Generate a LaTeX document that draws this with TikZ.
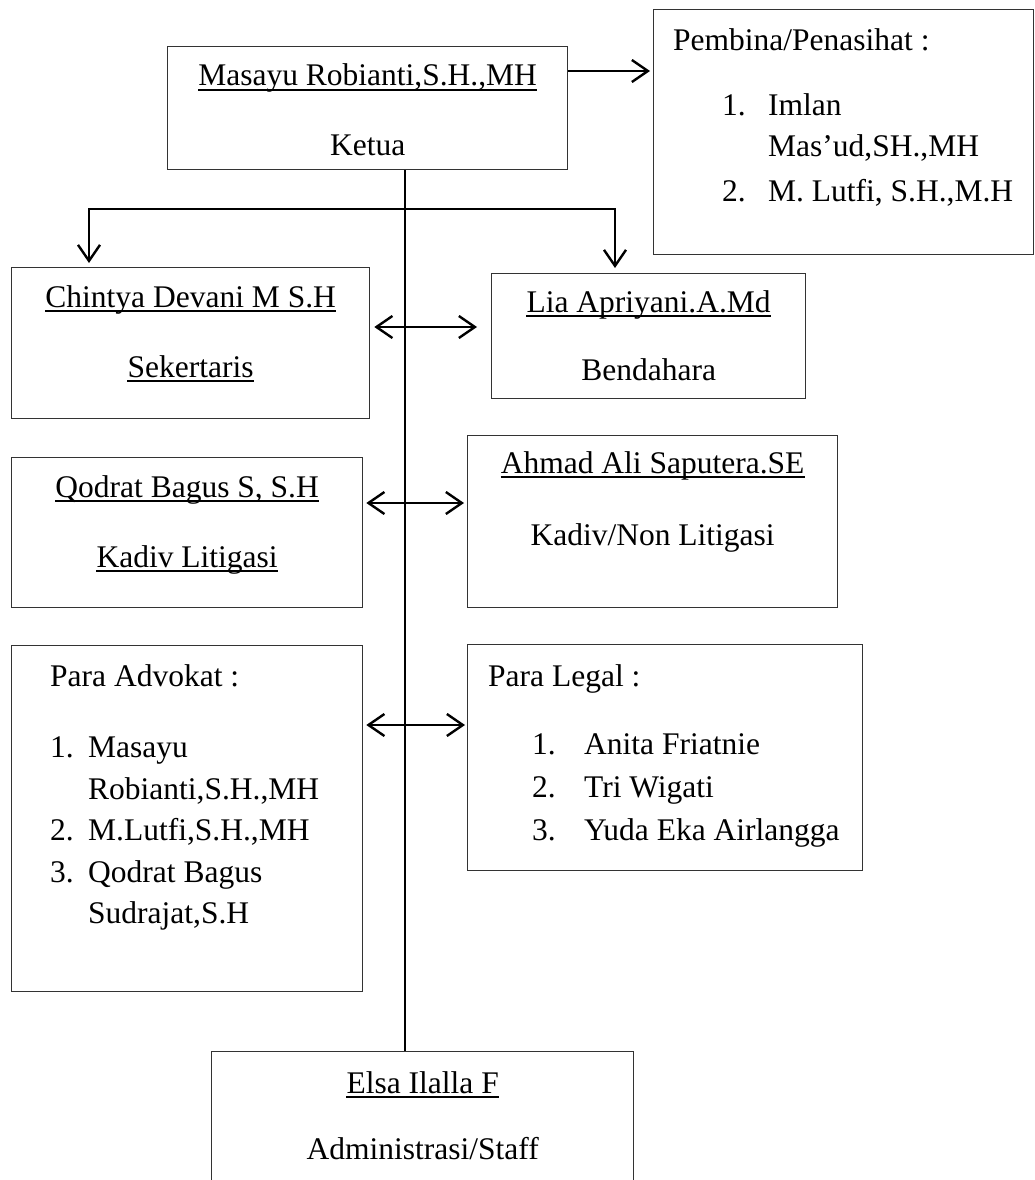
\documentclass[tikz,border=0pt]{standalone}
\usepackage{fontspec}
\setmainfont{Liberation Serif}
\usetikzlibrary{arrows.meta}
\begin{document}
\begin{tikzpicture}[x=1pt,y=-1pt,
  box/.style={draw=black!80,line width=1.3pt,inner sep=0pt,anchor=north west},
  txt/.style={inner sep=0pt,anchor=base,font=\fontsize{31.5}{36}\selectfont},
  ltxt/.style={txt,anchor=base west},
  ul/.style={line width=1.8pt},
  conn/.style={line width=2.4pt},
  trunk/.style={line width=1.8pt},
  barb/.tip={Straight Barb[length=16pt,width=22pt]},
  tipend/.style={-barb},
  dbl/.style={conn,barb-barb}]
\useasboundingbox (0,0) rectangle (1035,1180);
\clip (0,0) rectangle (1035,1180);

% boxes
\node[box,minimum width=400pt,minimum height=123pt] (ketua) at (167,46) {};
\node[box,minimum width=380pt,minimum height=245pt] (pemb) at (653,9) {};
\node[box,minimum width=358pt,minimum height=151pt] (chin) at (11,267) {};
\node[box,minimum width=314pt,minimum height=125pt] (lia) at (491,273) {};
\node[box,minimum width=351pt,minimum height=150pt] (qod) at (11,457) {};
\node[box,minimum width=370pt,minimum height=172pt] (ahm) at (467,435) {};
\node[box,minimum width=351pt,minimum height=346pt] (adv) at (11,645) {};
\node[box,minimum width=395pt,minimum height=226pt] (leg) at (467,644) {};
\node[box,minimum width=422pt,minimum height=200pt] (elsa) at (211,1051) {};

% connectors
\draw[trunk] (405,0 |- ketua.south) -- (405,0 |- elsa.north);
\draw[conn,tipend,shorten >=3pt] (ketua.east |- 0,71) -- (pemb.west |- 0,71);
\draw[dbl,shorten <=4pt,shorten >=5pt] (89,0 |- chin.north) -- (89,209) -- (615,209) -- (615,0 |- lia.north);
\draw[dbl,shorten <=4pt,shorten >=14pt] (chin.east |- 0,327) -- (lia.west |- 0,327);
\draw[dbl,shorten <=3pt,shorten >=3pt] (qod.east |- 0,503) -- (ahm.west |- 0,503);
\draw[dbl,shorten <=3pt,shorten >=2pt] (adv.east |- 0,725) -- (leg.west |- 0,725);

% Ketua
\node[txt] (k1) at (ketua.north |- 0,86) {Masayu Robianti,S.H.,MH};
\draw[ul] ([yshift=-4pt]k1.base west) -- ([yshift=-4pt]k1.base east);
\node[txt] (k2) at (ketua.north |- 0,155) {Ketua};

% Pembina
\node[ltxt] (p0) at (673,51) {Pembina/Penasihat :};
\node[ltxt] (p1n) at (722,116) {1.};
\node[ltxt] (p1a) at (768,116) {Imlan};
\node[ltxt] (p1b) at (768,157) {Mas’ud,SH.,MH};
\node[ltxt] (p2n) at (722,201) {2.};
\node[ltxt] (p2a) at (768,201) {M. Lutfi, S.H.,M.H};

% Chintya
\node[txt] (c1) at (chin.north |- 0,307) {Chintya Devani M S.H};
\draw[ul] ([yshift=-4pt]c1.base west) -- ([yshift=-4pt]c1.base east);
\node[txt] (c2) at (chin.north |- 0,377) {Sekertaris};
\draw[ul] ([yshift=-4pt]c2.base west) -- ([yshift=-4pt]c2.base east);

% Lia
\node[txt] (l1) at (lia.north |- 0,312) {Lia Apriyani.A.Md};
\draw[ul] ([yshift=-4pt]l1.base west) -- ([yshift=-4pt]l1.base east);
\node[txt] (l2) at (lia.north |- 0,380) {Bendahara};

% Qodrat
\node[txt] (q1) at (qod.north |- 0,497) {Qodrat Bagus S, S.H};
\draw[ul] ([yshift=-4pt]q1.base west) -- ([yshift=-4pt]q1.base east);
\node[txt] (q2) at (qod.north |- 0,567) {Kadiv Litigasi};
\draw[ul] ([yshift=-4pt]q2.base west) -- ([yshift=-4pt]q2.base east);

% Ahmad
\node[txt] (a1) at (ahm.north |- 0,473) {Ahmad Ali Saputera.SE};
\draw[ul] ([yshift=-4pt]a1.base west) -- ([yshift=-4pt]a1.base east);
\node[txt] (a2) at (ahm.north |- 0,545) {Kadiv/Non Litigasi};

% Para Advokat
\node[ltxt] (v0) at (50,686) {Para Advokat :};
\node[ltxt] (v1n) at (50,757) {1.};
\node[ltxt] (v1a) at (88,757) {Masayu};
\node[ltxt] (v1b) at (88,799) {Robianti,S.H.,MH};
\node[ltxt] (v2n) at (50,840) {2.};
\node[ltxt] (v2a) at (88,840) {M.Lutfi,S.H.,MH};
\node[ltxt] (v3n) at (50,882) {3.};
\node[ltxt] (v3a) at (88,882) {Qodrat Bagus};
\node[ltxt] (v3b) at (88,923) {Sudrajat,S.H};

% Para Legal
\node[ltxt] (g0) at (488,686) {Para Legal :};
\node[ltxt] (g1n) at (532,754) {1.};
\node[ltxt] (g1a) at (584,754) {Anita Friatnie};
\node[ltxt] (g2n) at (532,797) {2.};
\node[ltxt] (g2a) at (584,797) {Tri Wigati};
\node[ltxt] (g3n) at (532,840) {3.};
\node[ltxt] (g3a) at (584,840) {Yuda Eka Airlangga};

% Elsa
\node[txt] (e1) at (elsa.north |- 0,1093) {Elsa Ilalla F};
\draw[ul] ([yshift=-4pt]e1.base west) -- ([yshift=-4pt]e1.base east);
\node[txt] (e2) at (elsa.north |- 0,1159) {Administrasi/Staff};
\end{tikzpicture}
\end{document}
